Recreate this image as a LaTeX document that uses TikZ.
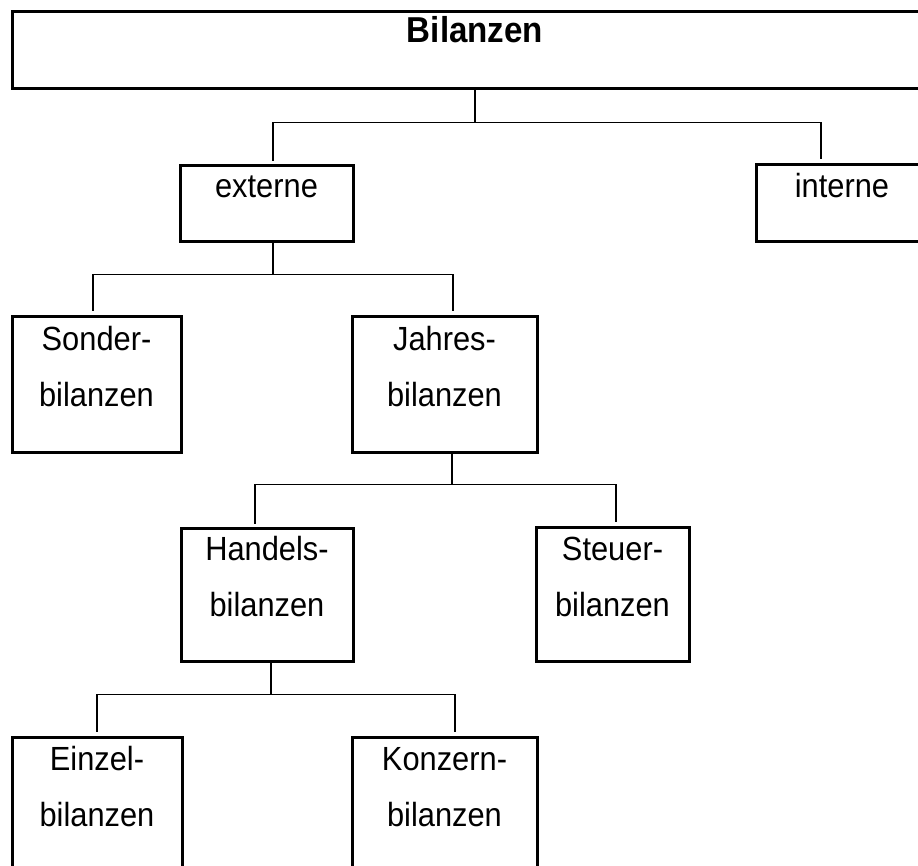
\documentclass[tikz,border=0pt]{standalone}
\usepackage{fontspec}
\setmainfont{Liberation Sans}[FakeStretch=0.92]
\begin{document}
\begin{tikzpicture}[x=1pt,y=-1pt,
  box/.style={draw=black,line width=3pt,rectangle,inner sep=0pt,fill=none},
  conn/.style={draw=black,line width=1.3pt},
  lbl/.style={inner sep=0pt,align=center,anchor=base,
    font=\fontsize{33.5}{56}\selectfont}]
\useasboundingbox (0,0) rectangle (918,866);

% boxes
\node[box,minimum width=926pt,minimum height=77pt] (top) at (475,50.5) {};
\node[box,minimum width=173pt,minimum height=76pt] (ext) at (266.5,204) {};
\node[box,minimum width=172pt,minimum height=77pt] (int) at (842,203.5) {};
\node[box,minimum width=169pt,minimum height=135pt] (son) at (96.5,384.5) {};
\node[box,minimum width=185pt,minimum height=135pt] (jah) at (444.5,384.5) {};
\node[box,minimum width=172pt,minimum height=133pt] (han) at (267,594.5) {};
\node[box,minimum width=153pt,minimum height=134pt] (ste) at (612.5,594) {};
\node[box,minimum width=170pt,minimum height=135pt] (ein) at (97,804.5) {};
\node[box,minimum width=185pt,minimum height=135pt] (kon) at (444.5,804.5) {};

% labels (anchor=base sits on the last line)
\node[lbl,yshift=-32pt,font=\fontsize{36}{56}\selectfont] (tTop) at (top.north) {\textbf{Bilanzen}};
\node[lbl,yshift=-33pt] (tExt) at (ext.north) {externe};
\node[lbl,yshift=-34pt] (tInt) at (int.north) {interne};
\node[lbl,yshift=-91pt] (tSon) at (son.north) {Sonder-\\bilanzen};
\node[lbl,yshift=-91pt] (tJah) at (jah.north) {Jahres-\\bilanzen};
\node[lbl,yshift=-90pt] (tHan) at (han.north) {Handels-\\bilanzen};
\node[lbl,yshift=-91pt] (tSte) at (ste.north) {Steuer-\\bilanzen};
\node[lbl,yshift=-91pt] (tEin) at (ein.north) {Einzel-\\bilanzen};
\node[lbl,yshift=-91pt] (tKon) at (kon.north) {Konzern-\\bilanzen};

% connectors
\draw[conn] (top.south) -- ++(0,32) coordinate (b1);
\draw[conn] (b1) -| ([xshift=6.5pt,yshift=3pt]ext.north);
\draw[conn] (b1) -| ([xshift=-21pt,yshift=4pt]int.north);

\draw[conn] ([xshift=6.5pt]ext.south) -- ++(0,31) coordinate (b2);
\draw[conn] (b2) -| ([xshift=-3.5pt,yshift=4pt]son.north);
\draw[conn] (b2) -| ([xshift=8.5pt,yshift=4pt]jah.north);

\draw[conn] ([xshift=7.5pt]jah.south) -- ++(0,31) coordinate (b3);
\draw[conn] (b3) -| ([xshift=-12pt,yshift=3pt]han.north);
\draw[conn] (b3) -| ([xshift=3.5pt,yshift=4pt]ste.north);

\draw[conn] ([xshift=4pt]han.south) -- ++(0,32) coordinate (b4);
\draw[conn] (b4) -| ([yshift=4pt]ein.north);
\draw[conn] (b4) -| ([xshift=10.5pt,yshift=4pt]kon.north);
\end{tikzpicture}
\end{document}
